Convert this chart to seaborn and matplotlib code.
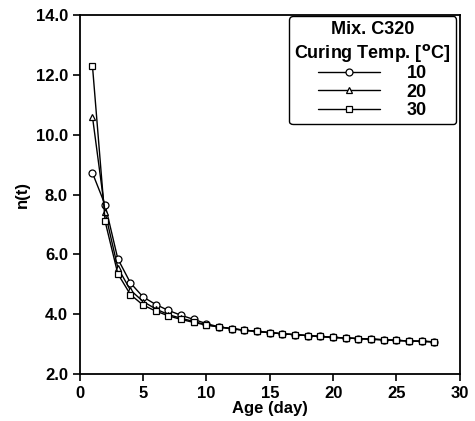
import matplotlib; matplotlib.use("Agg")
import numpy as np
import pandas as pd
import matplotlib.pyplot as plt
import seaborn as sns

# n(t) vs age for Mix. C320 at three curing temperatures
AGE = list(range(1, 29))
TAIL = [3.57, 3.51, 3.46, 3.42, 3.38, 3.34, 3.31, 3.28, 3.25, 3.22,
        3.20, 3.18, 3.16, 3.14, 3.12, 3.10, 3.09, 3.07]
N_10 = [8.72, 7.65, 5.85, 5.04, 4.57, 4.32, 4.12, 3.96, 3.82, 3.68] + TAIL
N_20 = [10.6, 7.40, 5.55, 4.80, 4.42, 4.17, 3.98, 3.86, 3.75, 3.64] + TAIL
N_30 = [12.3, 7.10, 5.35, 4.65, 4.30, 4.10, 3.94, 3.82, 3.72, 3.63] + TAIL
TEMPS = ["10", "20", "30"]
MARKERS = ["o", "^", "s"]

sns.set_style("ticks")
plt.rcParams["font.family"] = ["Liberation Sans", "DejaVu Sans"]
plt.rcParams["font.weight"] = "bold"
plt.rcParams.update({"text.color": "black", "axes.labelcolor": "black",
                     "xtick.color": "black", "ytick.color": "black",
                     "axes.edgecolor": "black"})

df = pd.DataFrame({"age": AGE * 3,
                   "n": N_10 + N_20 + N_30,
                   "temp": sum([[t] * len(AGE) for t in TEMPS], [])})

fig = plt.figure(figsize=(4.75, 4.21), dpi=100)
ax = fig.add_axes([0.168, 0.112, 0.800, 0.852])
for t, m in zip(TEMPS, MARKERS):
    sns.lineplot(data=df[df.temp == t], x="age", y="n", ax=ax, color="black",
                 lw=1.0, marker=m, markersize=5, markerfacecolor="white",
                 markeredgecolor="black", markeredgewidth=0.9, label=t)

ax.set_xlim(0, 30); ax.set_ylim(2, 14)
ax.set_xticks(range(0, 31, 5))
ax.set_yticks(np.arange(2, 14.1, 2))
ax.set_yticklabels([f"{v:.1f}" for v in np.arange(2, 14.1, 2)])
ax.tick_params(direction="out", length=5, width=1.2, labelsize=12)
for lbl in ax.get_xticklabels() + ax.get_yticklabels():
    lbl.set_fontweight("bold")
for s in ax.spines.values():
    s.set_linewidth(1.3); s.set_visible(True)
ax.set_xlabel("Age (day)", fontsize=12, fontweight="bold", labelpad=0)
ax.set_ylabel("n(t)", fontsize=12, fontweight="bold", labelpad=4)

leg = ax.legend(title="Mix. C320\nCuring Temp. [$^{\\rm o}$C]", loc="upper right",
                bbox_to_anchor=(0.993, 1.0), fancybox=True, framealpha=1,
                edgecolor="black", fontsize=13, handlelength=3.4,
                labelspacing=0.08, borderpad=0.3, handletextpad=1.5,
                borderaxespad=0.05,
                title_fontproperties={"weight": "bold", "size": 13})
leg.get_frame().set_linewidth(1.0)
leg.get_title().set_multialignment("center")

fig.savefig("out.png", dpi=100)
